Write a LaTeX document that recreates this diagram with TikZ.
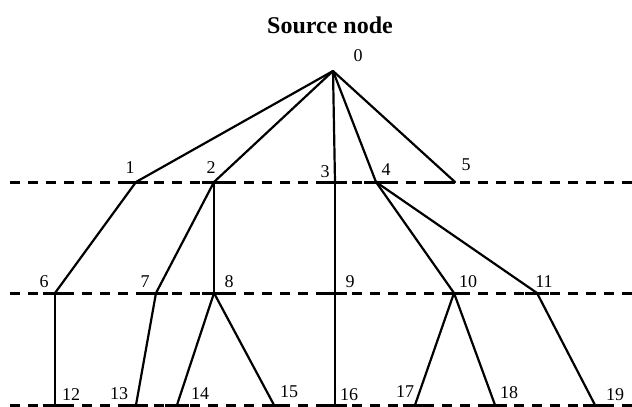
\documentclass[tikz,border=0pt]{standalone}
\usepackage{fontspec}
\setmainfont{Liberation Serif}
\begin{document}
\begin{tikzpicture}[x=1pt,y=-1pt,
  edge/.style={line width=2.2pt,line cap=round},
  level/.style={line width=3pt,dash pattern=on 10pt off 8pt},
  tick/.style={line width=3pt},
  lab/.style={font=\fontsize{18}{18}\selectfont,inner sep=0pt},
  title/.style={font=\fontsize{24}{24}\selectfont\bfseries,inner sep=0pt}]
\useasboundingbox (0,0) rectangle (632,407);
\fill[white] (0,0) rectangle (632,407);
% level lines
\draw[level] (10,182) -- (632,182);
\draw[level] (10,293) -- (632,293);
\draw[level] (10,405) -- (632,405);
% node points
\coordinate (n0) at (333,71);
\coordinate (n1) at (136,182);
\coordinate (n2) at (214,182);
\coordinate (n3) at (335,182);
\coordinate (n4) at (376,182);
\coordinate (n5) at (455,182);
\coordinate (n6) at (55,293);
\coordinate (n7) at (156,293);
\coordinate (n8) at (214,293);
\coordinate (n9) at (335,293);
\coordinate (n10) at (454,293);
\coordinate (n11) at (537,293);
\coordinate (n12) at (55,405);
\coordinate (n13) at (136,405);
\coordinate (n14) at (177,405);
\coordinate (n15) at (274,405);
\coordinate (n16) at (335,405);
\coordinate (n17) at (415,405);
\coordinate (n18) at (495,405);
\coordinate (n19) at (595,405);
% solid pieces of the level lines around the nodes
\foreach \n in {n1,n2,n3,n4,n6,n7,n8,n9,n10,n11,n12,n13,n14,n15,n16,n17,n18,n19}
  \draw[tick] ([xshift=-12pt]\n) -- ([xshift=12pt]\n);
\draw[tick] ([xshift=-22pt]n5) -- (n5);
% edges
\draw[edge] (n0) -- (n1);
\draw[edge] (n0) -- (n2);
\draw[edge] (n0) -- (n3);
\draw[edge] (n0) -- (n4);
\draw[edge] (n0) -- (n5);
\draw[edge] (n1) -- (n6);
\draw[edge] (n2) -- (n7);
\draw[edge] (n2) -- (n8);
\draw[edge] (n3) -- (n9);
\draw[edge] (n4) -- (n10);
\draw[edge] (n4) -- (n11);
\draw[edge] (n6) -- (n12);
\draw[edge] (n7) -- (n13);
\draw[edge] (n8) -- (n14);
\draw[edge] (n8) -- (n15);
\draw[edge] (n9) -- (n16);
\draw[edge] (n10) -- (n17);
\draw[edge] (n10) -- (n18);
\draw[edge] (n11) -- (n19);
% labels
\node[title] (src) at (330,25) {Source node};
\node[lab] (l0) at (358,56) {0};
\node[lab] (l1) at (130,168) {1};
\node[lab] (l2) at (211,168) {2};
\node[lab] (l3) at (325,172) {3};
\node[lab] (l4) at (386,170) {4};
\node[lab] (l5) at (466,165) {5};
\node[lab] (l6) at (44,282) {6};
\node[lab] (l7) at (145,282) {7};
\node[lab] (l8) at (229,282) {8};
\node[lab] (l9) at (350,282) {9};
\node[lab] (l10) at (468,282) {10};
\node[lab] (l11) at (544,282) {11};
\node[lab] (l12) at (71,395) {12};
\node[lab] (l13) at (119,394) {13};
\node[lab] (l14) at (200,394) {14};
\node[lab] (l15) at (289,392) {15};
\node[lab] (l16) at (349,395) {16};
\node[lab] (l17) at (405,392) {17};
\node[lab] (l18) at (509,393) {18};
\node[lab] (l19) at (615,395) {19};
\end{tikzpicture}
\end{document}
